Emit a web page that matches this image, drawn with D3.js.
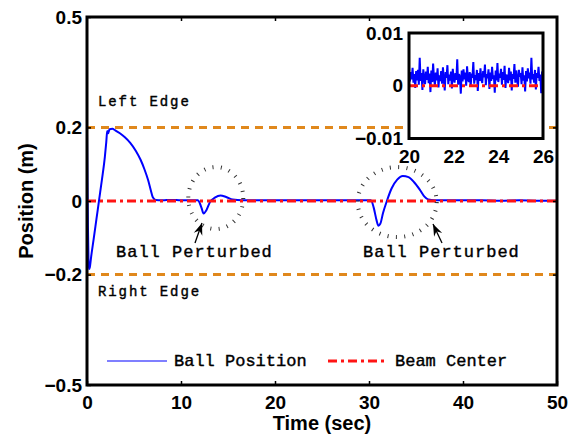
<!DOCTYPE html>
<html>
<head>
<meta charset="utf-8">
<script src="https://cdn.jsdelivr.net/npm/d3@7"></script>
<style>
body { margin: 0; background: #fff; }
svg { display: block; }
.axis text { font-family: "Liberation Sans", Arial, sans-serif; font-weight: bold; font-size: 19px; fill: #000; }
.axis line { stroke: #000; stroke-width: 1.5; }
.note { font-family: "Liberation Mono", "Courier New", monospace; fill: #000; stroke: #000; stroke-width: 0.4px; }
</style>
</head>
<body>
<div id="chart"></div>
<script>
// Ball position (m) vs time (sec)
var ballTime = [0, 0.04, 0.1, 0.16, 0.22, 0.3, 0.45, 0.7, 1.0, 1.3,
	1.6, 1.9, 2.05, 2.15, 2.25, 2.4, 2.7, 3.0, 3.5, 4.0,
	4.6, 5.2, 5.7, 6.1, 6.5, 6.8, 7.0, 7.3, 8.0, 9.0,
	10, 11, 11.8, 12.0, 12.2, 12.4, 12.7, 13.1, 13.6, 14.2,
	14.8, 15.5, 16.5, 18, 20, 22, 24, 26, 28, 30.2,
	30.5, 30.8, 31.0, 31.2, 31.5, 31.9, 32.4, 33.0, 33.6, 34.2,
	34.8, 35.4, 35.9, 36.3, 37.0, 38, 40, 42, 44, 46,
	48, 50];
var ballPos = [0.19, 0.08, -0.07, -0.16, -0.185, -0.18, -0.15, -0.105, -0.05, 0.005,
	0.06, 0.12, 0.16, 0.19, 0.184, 0.195, 0.196, 0.192, 0.184, 0.174,
	0.158, 0.136, 0.112, 0.087, 0.057, 0.028, 0.01, 0.003, 0.002, 0.003,
	0.002, 0.002, 0.002, -0.006, -0.02, -0.034, -0.025, -0.002, 0.009, 0.015,
	0.011, 0.004, 0.002, 0.002, 0.002, 0.002, 0.002, 0.002, 0.002, 0.002,
	-0.018, -0.052, -0.067, -0.062, -0.032, 0.0, 0.034, 0.058, 0.068, 0.065,
	0.051, 0.031, 0.012, 0.004, 0.002, 0.002, 0.002, 0.002, 0.001, 0.002,
	0.001, 0.001];

// Inset: zoomed ball position 20..26 sec, sampled every 0.04 sec, in mm
var insetStart = 20;
var insetStep = 0.04;
var insetPosMm = [2.1, 0.8, 2.6, 1.2, 3.4, 0.6, 2.2, -0.4, 2.8, 1.0,
	3.0, 0.2, 5.3, 0.9, 2.4, -0.8, 3.1, 1.4, 0.3, 2.7,
	1.1, 3.6, 0.5, 2.3, -1.2, 2.9, 0.7, 4.2, 1.3, 0.1,
	2.5, 1.0, 3.3, -0.3, 2.0, 0.9, 2.8, 0.4, 3.5, 1.2,
	-0.9, 2.6, 1.5, 3.9, 0.3, 2.1, 1.0, 2.7, -0.5, 3.2,
	1.4, 0.6, 2.4, 1.1, 5.0, 0.2, 2.2, 1.6, -1.5, 2.9,
	0.8, 3.1, 1.2, 2.5, 0.0, 3.7, 1.3, 0.7, 2.6, -0.2,
	2.3, 1.5, 4.5, 0.4, 2.0, 1.1, 3.0, -1.0, 2.4, 0.9,
	3.3, 1.2, 0.5, 2.8, 1.6, 4.0, 0.1, 2.2, 1.4, 3.1,
	-0.6, 2.5, 0.9, 3.6, 1.3, 2.0, -1.3, 2.9, 1.0, 4.3,
	0.7, 2.3, 1.5, 3.2, 0.2, 2.6, 1.1, 3.8, -0.4, 2.1,
	1.6, 0.5, 3.4, 1.0, 2.7, -0.9, 2.2, 1.3, 4.1, 0.6,
	2.9, 1.2, -0.2, 3.0, 1.7, 2.4, 0.3, 3.5, 1.0, 2.0,
	-1.1, 2.8, 0.8, 3.3, 1.4, 2.5, 0.4, 5.3, 1.2, 2.2,
	0.6, 3.0, -0.7, 2.4, 1.5, 3.6, 0.9, 2.1, -1.4, 2.7,
	1.8];

var edgeLevels = [0.2, -0.2];
var centerLevel = 0;
var xTicks = [0, 10, 20, 30, 40, 50];
var yTicks = [-0.5, -0.2, 0, 0.2, 0.5];
var insetXTicks = [20, 22, 24, 26];
var insetYTicks = [-0.01, 0, 0.01];

var svgWidth = 577;
var svgHeight = 436;

var plot = { left: 87, right: 557, top: 17, bottom: 385 };
var inset = { left: 409, right: 543, top: 33, bottom: 138.5 };

var blue = "#0000ff";
var red = "#ff1414";
var orange = "#e0881c";
var dashDot = "9,4,3,4";

var svg = d3.select("#chart")
	.append("svg")
	.attr("width", svgWidth)
	.attr("height", svgHeight);

var x = d3.scaleLinear().domain([0, 50]).range([plot.left, plot.right]);
var y = d3.scaleLinear().domain([-0.5, 0.5]).range([plot.bottom, plot.top]);

svg.append("clipPath")
	.attr("id", "plotClip")
	.append("rect")
	.attr("x", plot.left)
	.attr("y", plot.top)
	.attr("width", plot.right - plot.left)
	.attr("height", plot.bottom - plot.top);

var plotGroup = svg.append("g").attr("clip-path", "url(#plotClip)");

// beam edges
plotGroup.selectAll(".edge")
	.data(edgeLevels)
	.enter()
	.append("line")
	.attr("class", "edge")
	.attr("x1", x(0))
	.attr("x2", x(50))
	.attr("y1", d => y(d))
	.attr("y2", d => y(d))
	.attr("stroke", orange)
	.attr("stroke-width", 3)
	.attr("stroke-dasharray", "8,6");

// ball position
var ballData = ballTime.map((t, i) => [t, ballPos[i]]);
var ballLine = d3.line()
	.x(d => x(d[0]))
	.y(d => y(d[1]))
	.curve(d3.curveMonotoneX);

plotGroup.append("path")
	.datum(ballData)
	.attr("d", ballLine)
	.attr("fill", "none")
	.attr("stroke", blue)
	.attr("stroke-width", 2);

// beam center
plotGroup.append("line")
	.attr("x1", x(0))
	.attr("x2", x(50))
	.attr("y1", y(centerLevel))
	.attr("y2", y(centerLevel))
	.attr("stroke", red)
	.attr("stroke-width", 3)
	.attr("stroke-dasharray", dashDot);

// axes
var fmtY = d => d === 0 ? "0" : d3.format(".1f")(d);

svg.append("g")
	.attr("class", "axis")
	.attr("transform", `translate(0, ${plot.bottom})`)
	.call(d3.axisBottom(x).tickValues(xTicks).tickSizeInner(-4).tickSizeOuter(0).tickPadding(11))
	.call(g => g.select(".domain").remove());

svg.append("g")
	.attr("class", "axis")
	.attr("transform", `translate(0, ${plot.top})`)
	.call(d3.axisTop(x).tickValues(xTicks.slice(1, -1)).tickSizeInner(-4).tickSizeOuter(0).tickFormat(""))
	.call(g => g.select(".domain").remove());

svg.append("g")
	.attr("class", "axis")
	.attr("transform", `translate(${plot.left}, 0)`)
	.call(d3.axisLeft(y).tickValues(yTicks).tickSizeInner(-4).tickSizeOuter(0).tickPadding(5).tickFormat(fmtY))
	.call(g => g.select(".domain").remove());

svg.append("g")
	.attr("class", "axis")
	.attr("transform", `translate(${plot.right}, 0)`)
	.call(d3.axisRight(y).tickValues(yTicks.slice(1, -1)).tickSizeInner(-4).tickSizeOuter(0).tickFormat(""))
	.call(g => g.select(".domain").remove());

svg.append("rect")
	.attr("x", plot.left)
	.attr("y", plot.top)
	.attr("width", plot.right - plot.left)
	.attr("height", plot.bottom - plot.top)
	.attr("fill", "none")
	.attr("stroke", "#000")
	.attr("stroke-width", 3);

// axis titles
svg.append("text")
	.attr("x", (plot.left + plot.right) / 2)
	.attr("y", 430)
	.attr("text-anchor", "middle")
	.style("font-family", "'Liberation Sans', Arial, sans-serif")
	.style("font-weight", "bold")
	.style("font-size", "20px")
	.text("Time (sec)");

svg.append("text")
	.attr("transform", `translate(33, ${y(0)}) rotate(-90)`)
	.attr("text-anchor", "middle")
	.style("font-family", "'Liberation Sans', Arial, sans-serif")
	.style("font-weight", "bold")
	.style("font-size", "20px")
	.text("Position (m)");

// edge labels
svg.append("text").attr("class", "note")
	.attr("x", 98).attr("y", 106)
	.style("font-size", "14px").style("letter-spacing", "1.9px")
	.text("Left Edge");

svg.append("text").attr("class", "note")
	.attr("x", 98).attr("y", 296)
	.style("font-size", "14px").style("letter-spacing", "1.9px")
	.text("Right Edge");

// perturbation marks
var perturb = [
	{ cx: 13.7, cy: 0.008, rx: 27.5, ry: 31, tx: 116, tail: [195, 243], tip: [202, 223] },
	{ cx: 33.0, cy: -0.003, rx: 39.5, ry: 35, tx: 363, tail: [442, 243], tip: [433, 224] }
];

svg.selectAll(".ring")
	.data(perturb)
	.enter()
	.append("ellipse")
	.attr("class", "ring")
	.attr("cx", d => x(d.cx))
	.attr("cy", d => y(d.cy))
	.attr("rx", d => d.rx)
	.attr("ry", d => d.ry)
	.attr("fill", "none")
	.attr("stroke", "#333")
	.attr("stroke-width", 4)
	.attr("stroke-dasharray", "1,7.4");

svg.selectAll(".plabel")
	.data(perturb)
	.enter()
	.append("text")
	.attr("class", "note plabel")
	.attr("x", d => d.tx)
	.attr("y", 257)
	.style("font-size", "17px")
	.style("letter-spacing", "1px")
	.text("Ball Perturbed");

function arrowPath(tail, tip) {
	var dx = tip[0] - tail[0], dy = tip[1] - tail[1];
	var len = Math.sqrt(dx * dx + dy * dy);
	var ux = dx / len, uy = dy / len;
	var px = -uy, py = ux;
	var hl = 12, hw = 4.5, notch = 4;
	var bx = tip[0] - ux * hl, by = tip[1] - uy * hl;
	var nx = tip[0] - ux * (hl - notch), ny = tip[1] - uy * (hl - notch);
	return `M${tip[0]},${tip[1]}L${bx + px * hw},${by + py * hw}L${nx},${ny}L${bx - px * hw},${by - py * hw}Z`;
}

perturb.forEach(function(d) {
	svg.append("line")
		.attr("x1", d.tail[0]).attr("y1", d.tail[1])
		.attr("x2", d.tip[0]).attr("y2", d.tip[1])
		.attr("stroke", "#000")
		.attr("stroke-width", 1.3);
	svg.append("path")
		.attr("d", arrowPath(d.tail, d.tip))
		.attr("fill", "#000");
});

// legend
var legendY = 361;
svg.append("line")
	.attr("x1", 107).attr("x2", 167)
	.attr("y1", legendY).attr("y2", legendY)
	.attr("stroke", blue).attr("stroke-width", 1.2);
svg.append("text").attr("class", "note")
	.attr("x", 174).attr("y", 366)
	.style("font-size", "17px")
	.text("Ball Position");
svg.append("line")
	.attr("x1", 328).attr("x2", 385)
	.attr("y1", legendY).attr("y2", legendY)
	.attr("stroke", red).attr("stroke-width", 3)
	.attr("stroke-dasharray", dashDot);
svg.append("text").attr("class", "note")
	.attr("x", 395).attr("y", 366)
	.style("font-size", "17px")
	.text("Beam Center");

// inset
var xIn = d3.scaleLinear().domain([20, 26]).range([inset.left, inset.right]);
var yIn = d3.scaleLinear().domain([-0.01, 0.01]).range([inset.bottom, inset.top]);

svg.append("rect")
	.attr("x", inset.left)
	.attr("y", inset.top)
	.attr("width", inset.right - inset.left)
	.attr("height", inset.bottom - inset.top)
	.attr("fill", "#fff");

svg.append("clipPath")
	.attr("id", "insetClip")
	.append("rect")
	.attr("x", inset.left)
	.attr("y", inset.top)
	.attr("width", inset.right - inset.left)
	.attr("height", inset.bottom - inset.top);

var insetGroup = svg.append("g").attr("clip-path", "url(#insetClip)");

var insetData = insetPosMm.map((v, i) => [insetStart + i * insetStep, v / 1000]);

insetGroup.append("path")
	.datum(insetData)
	.attr("d", d3.line().x(d => xIn(d[0])).y(d => yIn(d[1])))
	.attr("fill", "none")
	.attr("stroke", blue)
	.attr("stroke-width", 2);

insetGroup.append("line")
	.attr("x1", xIn(20)).attr("x2", xIn(26))
	.attr("y1", yIn(centerLevel)).attr("y2", yIn(centerLevel))
	.attr("stroke", red)
	.attr("stroke-width", 3)
	.attr("stroke-dasharray", dashDot);

var fmtIn = d => d === 0 ? "0" : d3.format(".2f")(d);

svg.append("g")
	.attr("class", "axis")
	.attr("transform", `translate(0, ${inset.bottom})`)
	.call(d3.axisBottom(xIn).tickValues(insetXTicks).tickSize(0).tickPadding(11).tickFormat(d3.format("d")))
	.call(g => g.select(".domain").remove());

svg.append("g")
	.attr("class", "axis")
	.attr("transform", `translate(${inset.left}, 0)`)
	.call(d3.axisLeft(yIn).tickValues(insetYTicks).tickSize(0).tickPadding(6).tickFormat(fmtIn))
	.call(g => g.select(".domain").remove());

svg.append("rect")
	.attr("x", inset.left)
	.attr("y", inset.top)
	.attr("width", inset.right - inset.left)
	.attr("height", inset.bottom - inset.top)
	.attr("fill", "none")
	.attr("stroke", "#000")
	.attr("stroke-width", 3);
</script>
</body>
</html>
